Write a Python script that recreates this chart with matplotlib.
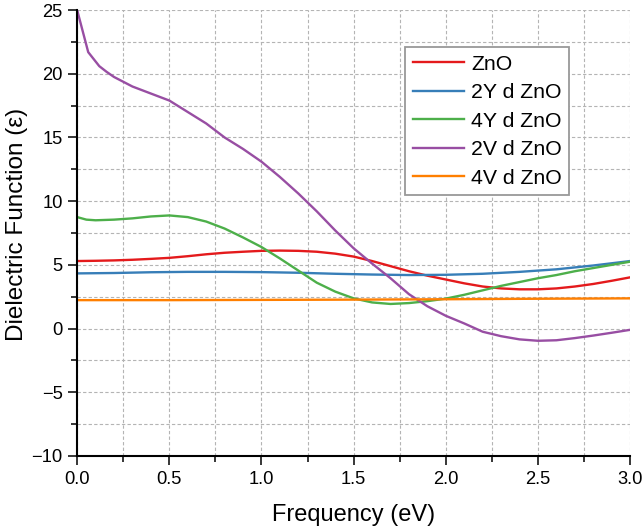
import numpy as np
import matplotlib
matplotlib.use("Agg")
import matplotlib.pyplot as plt
from matplotlib.ticker import MultipleLocator

plt.rcParams['font.family'] = ['Liberation Sans', 'DejaVu Sans']

# Values
x_fine = [0.0, 0.1, 0.2, 0.3, 0.4, 0.5, 0.6, 0.7, 0.8, 0.9, 1.0, 1.1, 1.2, 1.3, 1.4, 1.5,
          1.6, 1.7, 1.8, 1.9, 2.0, 2.1, 2.2, 2.3, 2.4, 2.5, 2.6, 2.7, 2.8, 2.9, 3.0]

zno = [5.3, 5.32, 5.35, 5.4, 5.47, 5.55, 5.68, 5.83, 5.95, 6.03, 6.1, 6.12, 6.1, 6.03, 5.88, 5.65,
       5.3, 4.9, 4.5, 4.15, 3.85, 3.55, 3.3, 3.15, 3.08, 3.08, 3.15, 3.3, 3.5, 3.75, 4.02]

x_2y = [0.0, 0.2, 0.4, 0.6, 0.8, 1.0, 1.2, 1.4, 1.6, 1.8, 2.0, 2.2, 2.4, 2.6, 2.8, 3.0]
y_2y = [4.33, 4.36, 4.42, 4.45, 4.45, 4.43, 4.38, 4.3, 4.24, 4.2, 4.22, 4.3, 4.45, 4.65, 4.95, 5.3]

x_4y = [0.0, 0.05] + x_fine[1:]
y_4y = [8.75, 8.55, 8.5, 8.55, 8.65, 8.8, 8.88, 8.75, 8.4, 7.85, 7.15, 6.4, 5.5, 4.55, 3.6, 2.9, 2.37,
        2.05, 1.93, 2.0, 2.15, 2.35, 2.65, 3.0, 3.35, 3.65, 3.95, 4.2, 4.5, 4.75, 5.0, 5.25]

x_2v = [0.0, 0.06, 0.12, 0.16] + x_fine[2:]
y_2v = [25.0, 21.7, 20.6, 20.15, 19.75, 19.0, 18.45, 17.9, 17.0, 16.1, 15.0, 14.1, 13.1, 11.9, 10.6, 9.2,
        7.7, 6.3, 5.1, 3.95, 2.7, 1.75, 1.0, 0.4, -0.25, -0.6, -0.85, -0.96, -0.92, -0.75, -0.55,
        -0.33, -0.1]

x_4v = [0.0, 0.5, 1.0, 1.5, 2.0, 2.5, 3.0]
y_4v = [2.23, 2.23, 2.25, 2.27, 2.3, 2.34, 2.37]

labels = ["ZnO", "2Y d ZnO", "4Y d ZnO", "2V d ZnO", "4V d ZnO"]
colors = ["#e41a1c", "#377eb8", "#4daf4a", "#984ea3", "#ff7f00"]

fig = plt.figure(figsize=(6.43, 5.32), dpi=100)
ax = fig.add_axes([0.12, 0.143, 0.86, 0.838])

series = [(x_fine, zno), (x_2y, y_2y), (x_4y, y_4y), (x_2v, y_2v), (x_4v, y_4v)]
for (xs, ys), lab, c in zip(series, labels, colors):
    ax.plot(xs, ys, color=c, lw=1.7, label=lab)

ax.set_xlim(0, 3.0)
ax.set_ylim(-10, 25)
ax.xaxis.set_major_locator(MultipleLocator(0.5))
ax.xaxis.set_minor_locator(MultipleLocator(0.25))
ax.yaxis.set_major_locator(MultipleLocator(5))
ax.yaxis.set_minor_locator(MultipleLocator(2.5))
ax.yaxis.set_major_formatter(plt.FuncFormatter(lambda v, p: f"{v:.0f}".replace("-", "\u2212")))

ax.grid(which='both', color='#b4b4b4', linestyle=(0, (3, 2)), linewidth=0.8)
ax.set_axisbelow(True)

for s in ['top', 'right']:
    ax.spines[s].set_visible(False)
for s in ['left', 'bottom']:
    ax.spines[s].set_linewidth(1.5)

ax.tick_params(which='major', direction='out', length=6.5, width=1.1, labelsize=13.2, pad=4)
ax.tick_params(which='minor', direction='out', length=4, width=1.1)

ax.set_xlabel("Frequency (eV)", fontsize=17, labelpad=12)
ax.set_ylabel("Dielectric Function (\u03b5)", fontsize=17.5)
ax.yaxis.set_label_coords(-0.088, 0.52)

leg = ax.legend(loc='upper left', bbox_to_anchor=(0.593, 0.917), fontsize=15.3, frameon=True,
                fancybox=False, edgecolor='#999999', framealpha=1, handlelength=2.4,
                handletextpad=0.35, labelspacing=0.45, borderpad=0.35, borderaxespad=0)
leg.get_frame().set_linewidth(1.3)

fig.savefig("out.png", dpi=100)
